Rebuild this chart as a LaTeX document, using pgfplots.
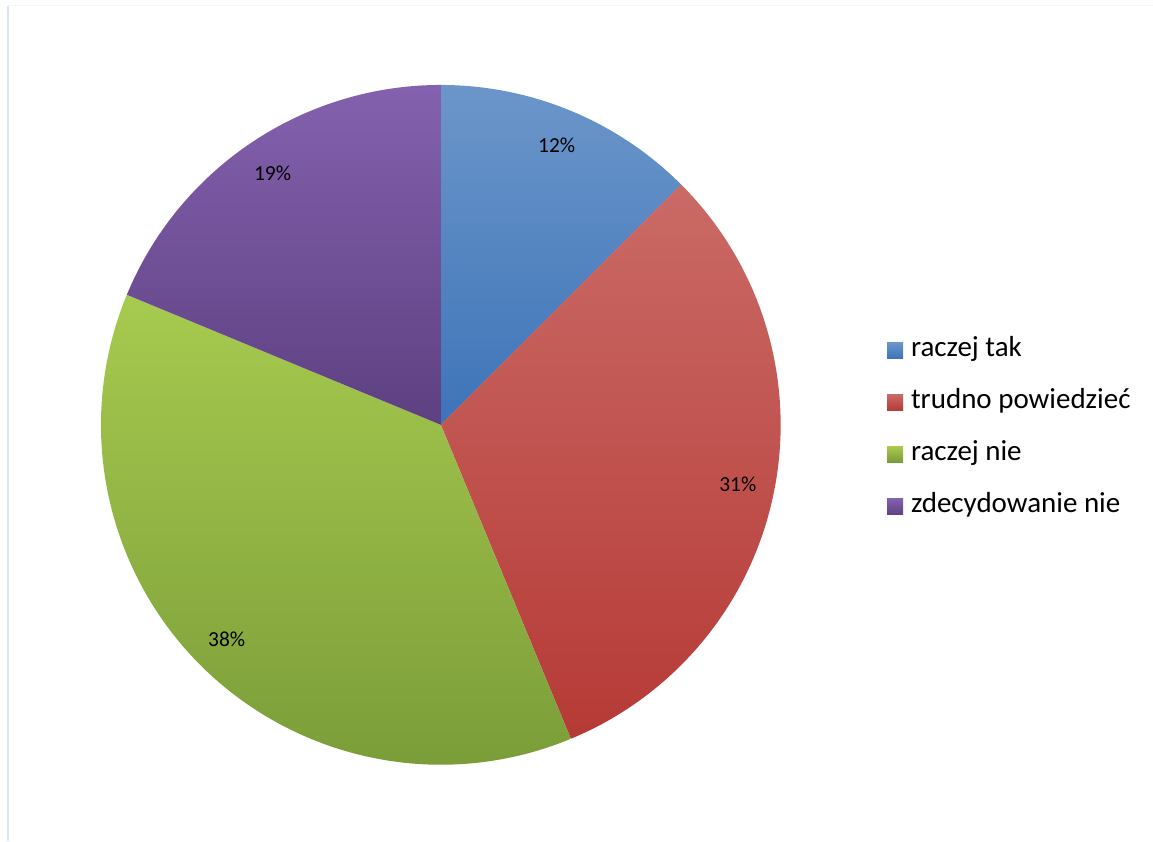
\documentclass[border=0pt]{standalone}
\usepackage{fontspec}
\setmainfont{Carlito}
\usepackage{pgfplots}
\usepackage{pgfplotstable}
\pgfplotsset{compat=1.18}

% slice colours (top / bottom of the gradient)
\definecolor{blueT}{HTML}{6C96CA}
\definecolor{blueB}{HTML}{3D74B8}
\definecolor{redT}{HTML}{CA6A66}
\definecolor{redB}{HTML}{B63A36}
\definecolor{greenT}{HTML}{A7CA4F}
\definecolor{greenB}{HTML}{779937}
\definecolor{purpleT}{HTML}{8461AE}
\definecolor{purpleB}{HTML}{5D4081}

% shares in percent, 2/16, 5/16, 6/16, 3/16
\pgfplotstableread{
name value
tak 12.5
trudno 31.25
nie 37.5
zdecnie 18.75
}\piedata

\begin{document}
\begin{tikzpicture}
% cumulative angles, clockwise from 12 o'clock
\pgfmathsetmacro\aA{90}
\pgfplotstablegetelem{0}{value}\of\piedata \pgfmathsetmacro\aB{\aA-3.6*\pgfplotsretval}
\pgfplotstablegetelem{1}{value}\of\piedata \pgfmathsetmacro\aC{\aB-3.6*\pgfplotsretval}
\pgfplotstablegetelem{2}{value}\of\piedata \pgfmathsetmacro\aD{\aC-3.6*\pgfplotsretval}
\pgfplotstablegetelem{3}{value}\of\piedata \pgfmathsetmacro\aE{\aD-3.6*\pgfplotsretval}
\pgfmathsetmacro\mA{(\aA+\aB)/2}
\pgfmathsetmacro\mB{(\aB+\aC)/2}
\pgfmathsetmacro\mC{(\aC+\aD)/2}
\pgfmathsetmacro\mD{(\aD+\aE)/2}
\def\R{170pt}
\def\labfont{\fontsize{10.7}{12}\selectfont}
\begin{axis}[
  x=0.5pt, y=0.5pt,
  xmin=0, xmax=1153, ymin=0, ymax=841,
  hide axis, clip=false,
  legend cell align=left,
  legend image code/.code={},
  legend style={
    at={(axis cs:887,507)}, anchor=north west,
    draw=none, fill=none, inner sep=0pt,
    font=\fontsize{14.5}{17}\selectfont,
    row sep=12.1pt, column sep=4pt,
    nodes={inner sep=0pt, text height=11pt, text depth=3pt},
  },
]
\path (axis cs:0,0) rectangle (axis cs:1153,841);
% faint frame of the chart area
\draw[color={rgb,255:red,220;green,230;blue,242}, line width=1pt] (axis cs:8,0) -- (axis cs:8,835);
\draw[color={rgb,255:red,242;green,244;blue,250}, line width=0.5pt] (axis cs:8,835) -- (axis cs:1153,835);

\shade[top color=blueT, bottom color=blueB] (axis cs:441,416) -- ++(\aA:\R) arc[start angle=\aA, end angle=\aB, radius=\R] -- cycle;
\shade[top color=redT, bottom color=redB] (axis cs:441,416) -- ++(\aB:\R) arc[start angle=\aB, end angle=\aC, radius=\R] -- cycle;
\shade[top color=greenT, bottom color=greenB] (axis cs:441,416) -- ++(\aC:\R) arc[start angle=\aC, end angle=\aD, radius=\R] -- cycle;
\shade[top color=purpleT, bottom color=purpleB] (axis cs:441,416) -- ++(\aD:\R) arc[start angle=\aD, end angle=\aE, radius=\R] -- cycle;

\path (axis cs:441,416) ++(\mA:151.5pt) node[font=\labfont] {12\%};
\path (axis cs:441,416) ++(\mB:151.5pt) node[font=\labfont] {31\%};
\path (axis cs:441,416) ++(\mC:151.5pt) node[font=\labfont] {38\%};
\path (axis cs:441,416) ++(\mD:151.5pt) node[font=\labfont] {19\%};

\addlegendimage{legend image code/.code={\path[draw=none, top color=blueT, bottom color=blueB] (0pt,-5pt) rectangle (8pt,3pt);}}
\addlegendentry{raczej tak}
\addlegendimage{legend image code/.code={\path[draw=none, top color=redT, bottom color=redB] (0pt,-5pt) rectangle (8pt,3pt);}}
\addlegendentry{trudno powiedzieć}
\addlegendimage{legend image code/.code={\path[draw=none, top color=greenT, bottom color=greenB] (0pt,-5pt) rectangle (8pt,3pt);}}
\addlegendentry{raczej nie}
\addlegendimage{legend image code/.code={\path[draw=none, top color=purpleT, bottom color=purpleB] (0pt,-5pt) rectangle (8pt,3pt);}}
\addlegendentry{zdecydowanie nie}
\end{axis}
\end{tikzpicture}
\end{document}
